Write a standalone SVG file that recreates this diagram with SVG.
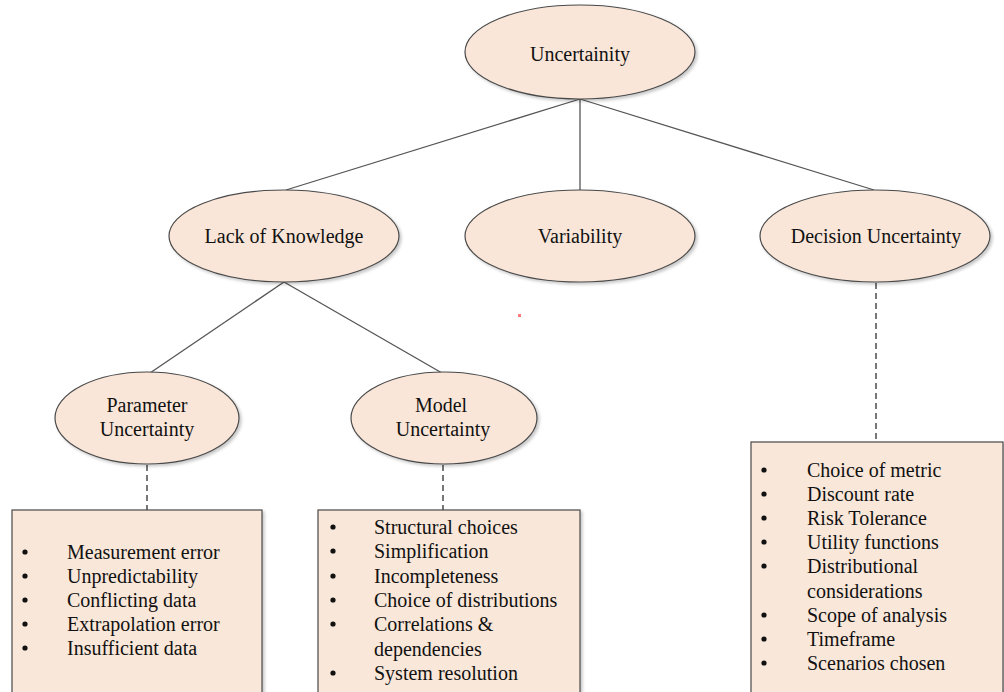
<svg xmlns="http://www.w3.org/2000/svg" width="1004" height="692" viewBox="0 0 1004 692">
  <defs>
    <filter id="shadow" x="-10%" y="-10%" width="125%" height="130%">
      <feDropShadow dx="2" dy="2" stdDeviation="1.5" flood-color="#000" flood-opacity="0.22"/>
    </filter>
  </defs>
  <style>
    .node { fill: #f9e6d8; stroke: #4a4a4a; stroke-width: 1.2; filter: url(#shadow); }
    .box { fill: #f9e7d9; stroke: #4a4a4a; stroke-width: 1.2; filter: url(#shadow); }
    .link { stroke: #555; stroke-width: 1.3; fill: none; }
    .dash { stroke: #555; stroke-width: 1.6; fill: none; stroke-dasharray: 6 4; }
    text { font-family: "Liberation Serif", "Times New Roman", serif; font-size: 20px; fill: #111; }
    .c { text-anchor: middle; }
    .dot { fill: #111; }
  </style>
  <rect width="1004" height="692" fill="#fff"/>

  <!-- connectors -->
  <g id="connectors">
    <line class="link" x1="580" y1="99" x2="286" y2="190"/>
    <line class="link" x1="580" y1="99" x2="580" y2="190"/>
    <line class="link" x1="580" y1="99" x2="874" y2="190"/>
    <line class="link" x1="284" y1="282" x2="150" y2="373"/>
    <line class="link" x1="284" y1="282" x2="442" y2="373"/>
    <line class="dash" x1="147" y1="465" x2="147" y2="510"/>
    <line class="dash" x1="443" y1="465" x2="443" y2="510"/>
    <line class="dash" x1="876" y1="283" x2="876" y2="442"/>
  </g>

  <!-- root -->
  <g id="uncertainity">
    <ellipse class="node" cx="580" cy="52" rx="115" ry="47"/>
    <text class="c" x="580" y="61">Uncertainity</text>
  </g>

  <!-- second level -->
  <g id="lack-of-knowledge">
    <ellipse class="node" cx="284" cy="236" rx="115" ry="46"/>
    <text class="c" x="284" y="243">Lack of Knowledge</text>
  </g>
  <g id="variability">
    <ellipse class="node" cx="580" cy="236" rx="115" ry="46"/>
    <text class="c" x="580" y="243">Variability</text>
  </g>
  <g id="decision-uncertainty">
    <ellipse class="node" cx="875" cy="236" rx="115" ry="46"/>
    <text class="c" x="876" y="243">Decision Uncertainty</text>
  </g>

  <!-- third level -->
  <g id="parameter-uncertainty">
    <ellipse class="node" cx="147" cy="418" rx="92" ry="46"/>
    <text class="c" x="147" y="412">Parameter</text>
    <text class="c" x="147" y="436">Uncertainty</text>
  </g>
  <g id="model-uncertainty">
    <ellipse class="node" cx="444" cy="418" rx="93" ry="46"/>
    <text class="c" x="441" y="412">Model</text>
    <text class="c" x="443" y="436">Uncertainty</text>
  </g>

  <!-- lists -->
  <g id="parameter-list">
    <rect class="box" x="12" y="510" width="250" height="190"/>
    <circle class="dot" cx="25" cy="552" r="2.6"/>
    <circle class="dot" cx="25" cy="576" r="2.6"/>
    <circle class="dot" cx="25" cy="600" r="2.6"/>
    <circle class="dot" cx="25" cy="624" r="2.6"/>
    <circle class="dot" cx="25" cy="648" r="2.6"/>
    <text x="67" y="559">Measurement error</text>
    <text x="67" y="583">Unpredictability</text>
    <text x="67" y="607">Conflicting data</text>
    <text x="67" y="631">Extrapolation error</text>
    <text x="67" y="655">Insufficient data</text>
  </g>

  <g id="model-list">
    <rect class="box" x="318" y="510" width="262" height="190"/>
    <circle class="dot" cx="333" cy="527" r="2.6"/>
    <circle class="dot" cx="333" cy="551" r="2.6"/>
    <circle class="dot" cx="333" cy="576" r="2.6"/>
    <circle class="dot" cx="333" cy="600" r="2.6"/>
    <circle class="dot" cx="333" cy="624" r="2.6"/>
    <circle class="dot" cx="333" cy="673" r="2.6"/>
    <text x="374" y="534">Structural choices</text>
    <text x="374" y="558">Simplification</text>
    <text x="374" y="583">Incompleteness</text>
    <text x="374" y="607">Choice of distributions</text>
    <text x="374" y="631">Correlations &amp;</text>
    <text x="374" y="656">dependencies</text>
    <text x="374" y="680">System resolution</text>
  </g>

  <g id="decision-list">
    <rect class="box" x="751" y="442" width="252" height="258"/>
    <circle class="dot" cx="764" cy="470" r="2.6"/>
    <circle class="dot" cx="764" cy="494" r="2.6"/>
    <circle class="dot" cx="764" cy="518" r="2.6"/>
    <circle class="dot" cx="764" cy="542" r="2.6"/>
    <circle class="dot" cx="764" cy="566" r="2.6"/>
    <circle class="dot" cx="764" cy="615" r="2.6"/>
    <circle class="dot" cx="764" cy="639" r="2.6"/>
    <circle class="dot" cx="764" cy="663" r="2.6"/>
    <text x="807" y="477">Choice of metric</text>
    <text x="807" y="501">Discount rate</text>
    <text x="807" y="525">Risk Tolerance</text>
    <text x="807" y="549">Utility functions</text>
    <text x="807" y="573">Distributional</text>
    <text x="807" y="598">considerations</text>
    <text x="807" y="622">Scope of analysis</text>
    <text x="807" y="646">Timeframe</text>
    <text x="807" y="670">Scenarios chosen</text>
  </g>

  <!-- stray mark -->
  <rect x="518" y="314" width="3" height="3" fill="#ff5a5a" opacity="0.8"/>
</svg>
